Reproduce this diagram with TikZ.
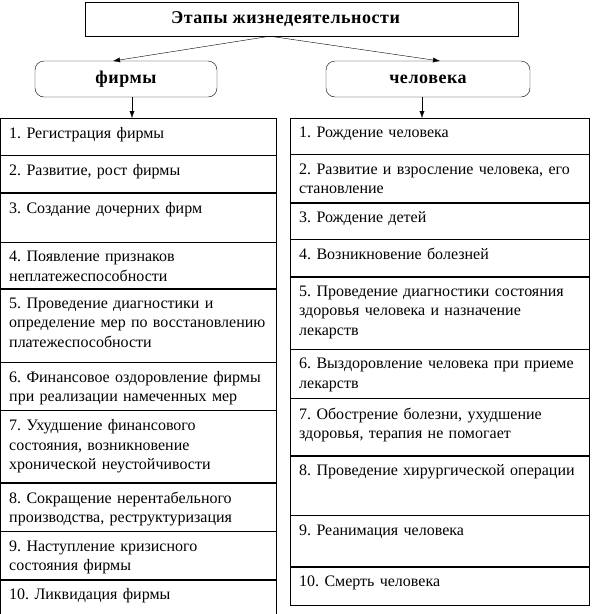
\documentclass[tikz,border=0pt]{standalone}
\usepackage{fontspec}
\setmainfont{Liberation Serif}
\usetikzlibrary{arrows.meta, positioning}
\frenchspacing

% row text kept at the top of its cell
\newcommand{\celltext}[2]{\vbox to \dimexpr#1pt-18pt\relax{#2\vfil}}

\tikzset{
  head/.style={draw, font=\fontsize{18}{20}\selectfont\bfseries\addfontfeatures{LetterSpace=3}},
  branch/.style={head, rounded corners=9pt, minimum height=36pt},
  cellL/.style={draw, anchor=north, inner xsep=9pt, inner ysep=9pt, text width=258pt, align=left,
    font=\fontsize{16}{19.5}\selectfont},
  cellR/.style={cellL, text width=281pt},
  link/.style={-{Latex[length=7pt, width=5pt]}}
}

\begin{document}
\begin{tikzpicture}[x=1pt, y=-1pt]
  \useasboundingbox (0,0) rectangle (602,614);

  % title
  \node[head, minimum width=433pt, minimum height=34pt] (title) at (301.5,19) {\hspace*{-32pt}Этапы жизнедеятельности};
  \coordinate (split) at (270,0);

  % two branches
  \node[branch, minimum width=182pt] (firm) at (126,79) {фирмы};
  \node[branch, minimum width=204pt] (human) at (428,79) {человека};
  \coordinate (firmtop) at (113,61);
  \coordinate (humantop) at (440,61);
  \coordinate (firmdown) at (132,0);
  \coordinate (humandown) at (422,0);

  % left column
  \node[cellL, anchor=north west] (l1) at (0,118) {\celltext{37}{1. Регистрация фирмы}};
  \node[cellL, below=0pt of l1] (l2) {\celltext{37}{2. Развитие, рост фирмы}};
  \node[cellL, below=0pt of l2] (l3) {\celltext{49}{3. Создание дочерних фирм}};
  \node[cellL, below=0pt of l3] (l4) {\celltext{46}{4. Появление признаков\\неплатежеспособности}};
  \node[cellL, below=0pt of l4] (l5) {\celltext{73}{5. Проведение диагностики и\\определение мер по восстановлению\\платежеспособности}};
  \node[cellL, below=0pt of l5] (l6) {\celltext{48}{6. Финансовое оздоровление фирмы\\при реализации намеченных мер}};
  \node[cellL, below=0pt of l6] (l7) {\celltext{72}{7. Ухудшение финансового\\состояния, возникновение\\хронической неустойчивости}};
  \node[cellL, below=0pt of l7] (l8) {\celltext{48}{8. Сокращение нерентабельного\\производства, реструктуризация}};
  \node[cellL, below=0pt of l8] (l9) {\celltext{48}{9. Наступление кризисного\\состояния фирмы}};
  \node[cellL, below=0pt of l9] (l10) {\celltext{36}{10. Ликвидация фирмы}};

  % right column
  \node[cellR, anchor=north west] (r1) at (290,118) {\celltext{36}{1. Рождение человека}};
  \node[cellR, below=0pt of r1] (r2) {\celltext{48}{2. Развитие и взросление человека, его\\становление}};
  \node[cellR, below=0pt of r2] (r3) {\celltext{36}{3. Рождение детей}};
  \node[cellR, below=0pt of r3] (r4) {\celltext{37}{4. Возникновение болезней}};
  \node[cellR, below=0pt of r4] (r5) {\celltext{72}{5. Проведение диагностики состояния\\здоровья человека и назначение\\лекарств}};
  \node[cellR, below=0pt of r5] (r6) {\celltext{49}{6. Выздоровление человека при приеме\\лекарств}};
  \node[cellR, below=0pt of r6] (r7) {\celltext{57}{7. Обострение болезни, ухудшение\\здоровья, терапия не помогает}};
  \node[cellR, below=0pt of r7] (r8) {\celltext{59}{8. Проведение хирургической операции}};
  \node[cellR, below=0pt of r8] (r9) {\celltext{51}{9. Реанимация человека}};
  \node[cellR, below=0pt of r9] (r10) {\celltext{38}{10. Смерть человека}};

  % arrows
  \draw[link] (title.south -| split) -- (firmtop);
  \draw[link] (title.south -| split) -- (humantop);
  \draw[link] (firm.south -| firmdown) -- (firmdown |- l1.north);
  \draw[link] (human.south -| humandown) -- (humandown |- r1.north);
\end{tikzpicture}
\end{document}
